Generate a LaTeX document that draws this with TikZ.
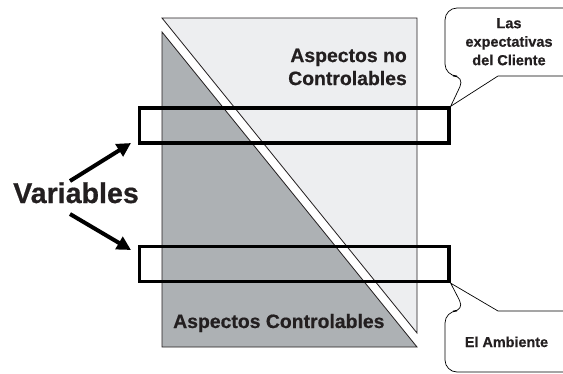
\documentclass[tikz,border=0pt]{standalone}
\usepackage{fontspec}
\setmainfont{Liberation Sans}[BoldFont={Liberation Sans Bold}]
\newfontfamily\lblfont{Liberation Sans Bold}[FakeBold=0.6]
\usetikzlibrary{arrows.meta}
\definecolor{lightfill}{HTML}{EDEEF0}
\definecolor{darkfill}{HTML}{ADB1B4}
\definecolor{txt}{HTML}{231F20}
\begin{document}
\begin{tikzpicture}[x=1pt,y=-1pt,
  tri/.style={draw=txt,line width=0.8pt},
  varbox/.style={draw=black,line width=3.3pt,inner sep=0pt,minimum width=309.5pt,minimum height=35pt},
  callout/.style={draw=black,fill=white,line width=0.7pt},
  bigarrow/.style={line width=4pt,-{Triangle[length=14pt,width=14pt]},black},
  lbl/.style={inner sep=0pt,text=txt}]
\useasboundingbox (0,0) rectangle (563,373);
\clip (0,0) rectangle (563,373);
\fill[white] (0,0) rectangle (563,373);
% triangles
\filldraw[tri,fill=lightfill] (162,18) -- (417,18) -- (417,333) -- cycle;
\filldraw[tri,fill=darkfill] (162,32) -- (417,347) -- (162,347) -- cycle;
% texts
\node[lbl,anchor=north east,align=right,font=\lblfont\fontsize{19.4}{23}\selectfont] (nc) at (407,48.5) {Aspectos no\\Controlables};
\node[lbl,anchor=base west,font=\lblfont\fontsize{19.4}{23}\selectfont] (ctl) at (173,328) {Aspectos Controlables};
% variable boxes
\node[varbox] (top) at (294.25,125.5) {};
\node[varbox] (bot) at (294.25,264) {};
% Variables
\node[lbl,anchor=base,font=\lblfont\fontsize{28.6}{30}\selectfont] (var) at (76,203) {Variables};
\coordinate (v1) at (70,181);
\coordinate (v2) at (70,214);
\coordinate (t1) at (131,143);
\coordinate (t2) at (131,250);
\draw[bigarrow] (v1) -- (t1);
\draw[bigarrow] (v2) -- (t2);
% callouts
\filldraw[callout] (498,76) [rounded corners=12pt] -- (590,76) -- (590,8) -- (445,8) -- (445,76) -- (465,76) [sharp corners] -- (top.north east) -- cycle;
\node[lbl,anchor=north,align=center,font=\lblfont\fontsize{14.5}{18.5}\selectfont] (exp) at (509,18) {Las\\expectativas\\del Cliente};
\filldraw[callout] (498,311) [rounded corners=12pt] -- (590,311) -- (590,372) -- (445,372) -- (445,311) -- (465,311) [sharp corners] -- (bot.south east) -- cycle;
\node[lbl,anchor=base,font=\lblfont\fontsize{14.4}{17}\selectfont] (amb) at (506.5,347) {El Ambiente};
\end{tikzpicture}
\end{document}
